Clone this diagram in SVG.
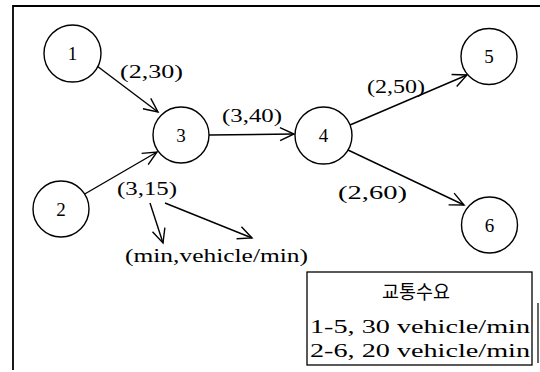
<svg xmlns="http://www.w3.org/2000/svg" width="540" height="372" viewBox="0 0 540 372">
<style>
.n{fill:#fff;stroke:#000;stroke-width:1.4}
.t{font-family:"Liberation Serif","Noto Sans CJK KR",serif;font-size:19px;fill:#000}
.c{stroke:#000;stroke-width:1.4;fill:none}
</style>
<defs>
<marker id="ah" markerUnits="userSpaceOnUse" viewBox="-16 -8 18 16" refX="0" refY="0" markerWidth="18" markerHeight="16" orient="auto">
<path d="M-14,-6.5 L0,0 L-14,6.5" fill="none" stroke="#000" stroke-width="1.4"/>
</marker>
</defs>
<rect width="540" height="372" fill="#fff"/>
<g id="frame">
<path d="M13,370 L13,6 L540,6" fill="none" stroke="#000" stroke-width="1.8"/>
<path d="M538,303 L538,363" fill="none" stroke="#000" stroke-width="1.2"/>
</g>
<g id="connectors">
<line class="c" x1="97" y1="66" x2="158" y2="112" marker-end="url(#ah)"/>
<line class="c" x1="83" y1="195" x2="157" y2="152" marker-end="url(#ah)"/>
<line class="c" x1="209" y1="135" x2="294" y2="134" marker-end="url(#ah)"/>
<line class="c" x1="350" y1="125" x2="467" y2="75" marker-end="url(#ah)"/>
<line class="c" x1="348" y1="150" x2="464" y2="205" marker-end="url(#ah)"/>
<line class="c" x1="150" y1="203" x2="163" y2="243" marker-end="url(#ah)"/>
<line class="c" x1="165" y1="203" x2="252" y2="238" marker-end="url(#ah)"/>
<text class="t" x="120" y="78" textLength="63" lengthAdjust="spacingAndGlyphs">(2,30)</text>
<text class="t" x="222" y="122" textLength="60" lengthAdjust="spacingAndGlyphs">(3,40)</text>
<text class="t" x="367" y="93" textLength="58" lengthAdjust="spacingAndGlyphs">(2,50)</text>
<text class="t" x="338" y="199" textLength="69" lengthAdjust="spacingAndGlyphs">(2,60)</text>
<text class="t" x="117" y="195" textLength="60" lengthAdjust="spacingAndGlyphs">(3,15)</text>
<text class="t" x="125" y="262" textLength="183" lengthAdjust="spacingAndGlyphs">(min,vehicle/min)</text>
</g>
<g id="n1"><circle class="n" cx="72.5" cy="53.5" r="28.5"/><text class="t" x="72.5" y="60" text-anchor="middle">1</text></g>
<g id="n2"><circle class="n" cx="61" cy="209" r="28"/><text class="t" x="61" y="215.5" text-anchor="middle">2</text></g>
<g id="n3"><circle class="n" cx="181" cy="135" r="28"/><text class="t" x="181" y="141.5" text-anchor="middle">3</text></g>
<g id="n4"><circle class="n" cx="323.5" cy="135.5" r="28.5"/><text class="t" x="323.5" y="142" text-anchor="middle">4</text></g>
<g id="n5"><circle class="n" cx="489" cy="56.5" r="28"/><text class="t" x="489" y="63" text-anchor="middle">5</text></g>
<g id="n6"><circle class="n" cx="489.5" cy="225" r="28"/><text class="t" x="489.5" y="231.5" text-anchor="middle">6</text></g>
<g id="legend">
<rect x="307" y="272" width="225" height="93" fill="#fff" stroke="#000" stroke-width="1.3"/>
<text class="t" x="416" y="299" text-anchor="middle" textLength="68" lengthAdjust="spacingAndGlyphs">교통수요</text>
<text class="t" x="310" y="333" textLength="220" lengthAdjust="spacingAndGlyphs">1-5, 30 vehicle/min</text>
<text class="t" x="310" y="357" textLength="220" lengthAdjust="spacingAndGlyphs">2-6, 20 vehicle/min</text>
</g>
</svg>
